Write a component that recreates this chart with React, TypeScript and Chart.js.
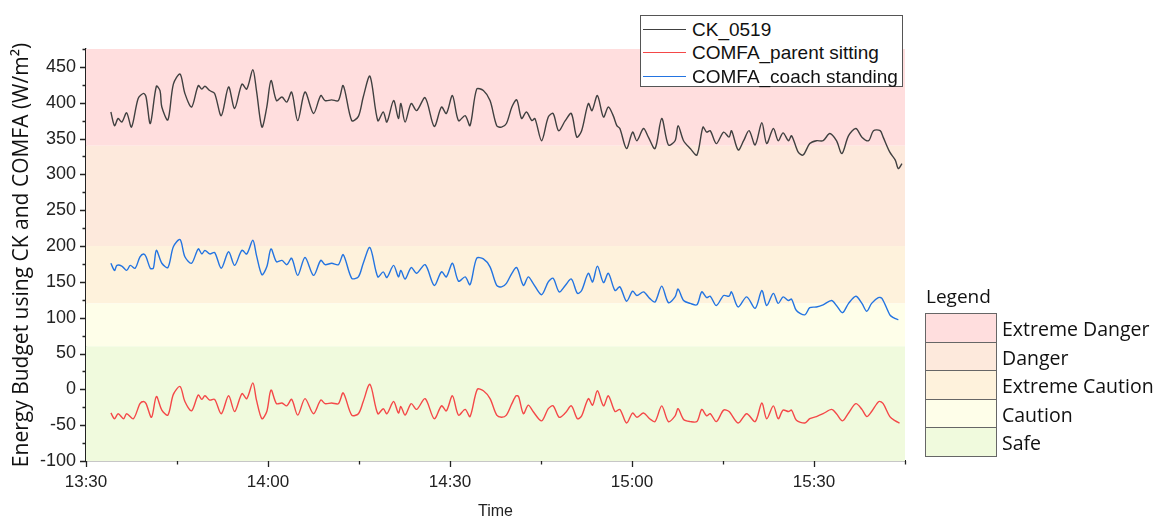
import React, { useEffect, useRef } from 'react';
import Chart from 'chart.js/auto';

// ---- data (minutes after 13:30) ----
const ckTime = [4.1, 4.7, 5.3, 5.9, 6.7, 7.5, 8.6, 9.5, 9.9, 10.6, 11.6, 12.2, 12.5, 13.5, 14.4, 15.5, 16.3, 17.4, 18.5, 19.1, 19.6, 20.4, 21.2, 22.3, 23.5, 24.5, 25.7, 26.5, 27.5, 28.1, 29.0, 29.8, 30.5, 31.4, 32.3, 33.1, 33.9, 34.9, 36.1, 37.5, 38.7, 39.4, 40.5, 41.6, 42.4, 43.8, 44.9, 45.7, 46.8, 48.1, 49.0, 49.6, 50.7, 51.5, 51.9, 52.6, 53.6, 54.5, 55.9, 57.4, 58.6, 59.4, 60.4, 61.4, 62.5, 63.3, 64.4, 65.5, 66.6, 67.7, 68.5, 69.3, 70.2, 71.0, 71.8, 72.6, 73.5, 74.0, 75.1, 76.2, 77.0, 77.9, 79.0, 80.0, 80.9, 81.7, 82.8, 83.4, 84.3, 85.3, 86.1, 86.9, 87.5, 88.0, 89.1, 90.1, 90.8, 91.9, 92.7, 93.8, 94.9, 96.0, 97.1, 97.6, 98.5, 99.6, 100.7, 101.7, 102.3, 102.9, 103.9, 105.1, 106.0, 106.4, 107.5, 108.4, 109.3, 110.3, 111.4, 112.2, 113.3, 114.1, 114.9, 115.8, 116.3, 117.4, 118.2, 119.3, 120.4, 121.5, 122.6, 123.7, 124.6, 125.7, 126.9, 127.9, 129.0, 129.8, 130.9, 131.4, 132.5, 133.4, 133.9, 134.5];
const ckValue = [387, 368, 378, 373, 386, 366, 406, 413, 408, 371, 423, 417, 394, 376, 426, 440, 413, 394, 424, 419, 423, 417, 413, 382, 422, 392, 426, 419, 446, 417, 366, 394, 431, 403, 408, 401, 415, 375, 415, 385, 410, 403, 404, 403, 424, 375, 381, 408, 437, 375, 387, 373, 403, 378, 399, 373, 399, 389, 407, 367, 394, 385, 410, 375, 382, 368, 419, 417, 403, 368, 366, 371, 394, 404, 378, 387, 375, 378, 347, 380, 385, 361, 375, 385, 352, 361, 399, 389, 410, 380, 394, 382, 368, 364, 336, 359, 347, 364, 352, 336, 378, 341, 347, 368, 347, 336, 327, 366, 359, 361, 343, 359, 352, 361, 334, 347, 361, 341, 372, 343, 364, 347, 358, 347, 354, 331, 327, 343, 347, 347, 357, 347, 329, 354, 364, 352, 347, 361, 361, 352, 331, 320, 308, 315];

const parentTime = [4.1, 4.7, 5.3, 6.2, 6.7, 7.8, 8.9, 9.5, 9.9, 10.8, 11.6, 12.5, 13.5, 14.4, 15.5, 16.3, 17.4, 18.5, 19.1, 19.6, 20.4, 21.2, 22.3, 23.5, 24.5, 25.7, 26.5, 27.5, 28.1, 29.0, 29.8, 30.5, 31.4, 32.3, 33.1, 33.9, 34.9, 36.1, 37.5, 38.7, 39.4, 40.5, 41.6, 42.4, 43.8, 44.9, 45.7, 46.8, 48.1, 49.0, 49.6, 50.7, 51.5, 51.9, 52.6, 53.6, 54.5, 55.9, 57.4, 58.6, 59.4, 60.4, 61.4, 62.5, 63.3, 64.5, 65.5, 66.6, 67.7, 68.5, 69.3, 70.2, 70.9, 71.3, 72.1, 72.9, 73.7, 75.1, 76.2, 77.0, 78.0, 79.0, 80.0, 81.0, 81.7, 82.8, 83.5, 84.3, 85.3, 86.1, 87.2, 88.0, 89.1, 90.1, 90.8, 91.9, 92.9, 93.8, 94.9, 96.0, 97.1, 97.6, 98.5, 99.6, 100.7, 101.5, 102.3, 102.9, 103.9, 105.1, 106.0, 107.5, 108.9, 110.3, 111.4, 112.2, 113.3, 114.1, 114.9, 115.8, 116.3, 117.1, 118.5, 119.3, 120.4, 121.5, 122.9, 123.7, 124.7, 125.7, 126.9, 127.9, 128.7, 129.5, 130.7, 131.4, 132.5, 133.4, 134.1];
const parentValue = [-33, -41, -34, -41, -34, -41, -20, -17, -20, -39, -10, -29, -36, -7, 4, -17, -30, -8, -14, -9, -15, -14, -34, -9, -31, -6, -13, 9, -15, -41, -31, -1, -20, -19, -23, -14, -36, -13, -34, -15, -20, -19, -20, -5, -36, -34, -17, 7, -34, -27, -34, -17, -33, -24, -36, -20, -28, -13, -41, -23, -30, -9, -36, -28, -38, 0, -2, -13, -36, -39, -36, -20, -9, -10, -34, -22, -31, -44, -27, -23, -39, -33, -23, -41, -37, -13, -22, -2, -23, -9, -31, -28, -47, -33, -39, -33, -41, -45, -23, -45, -37, -27, -42, -45, -45, -28, -37, -34, -45, -29, -31, -47, -34, -45, -19, -41, -23, -41, -29, -31, -29, -43, -47, -41, -38, -34, -28, -34, -44, -33, -20, -28, -38, -31, -17, -20, -38, -44, -47];

const coachTime = [4.1, 4.7, 5.1, 5.9, 6.7, 7.3, 8.1, 8.9, 9.5, 9.9, 10.6, 11.1, 11.6, 12.5, 13.5, 14.4, 15.5, 16.3, 17.4, 18.5, 19.1, 19.6, 20.4, 21.2, 22.3, 23.5, 24.5, 25.7, 26.5, 27.5, 28.1, 29.0, 29.8, 30.5, 31.4, 32.3, 33.1, 33.9, 34.9, 36.1, 37.5, 38.7, 39.4, 40.5, 41.6, 42.4, 43.8, 44.9, 45.7, 46.8, 48.1, 49.0, 49.6, 50.7, 51.5, 51.9, 52.6, 53.6, 54.5, 55.9, 57.4, 58.6, 59.4, 60.4, 61.4, 62.5, 63.3, 64.4, 65.5, 66.6, 67.7, 68.5, 69.3, 70.2, 71.0, 72.1, 72.9, 73.7, 75.1, 76.2, 77.0, 78.0, 79.0, 80.0, 81.0, 81.7, 82.8, 83.5, 84.3, 85.3, 86.1, 87.2, 88.0, 89.1, 90.1, 90.8, 91.9, 92.9, 93.8, 94.9, 96.0, 97.1, 97.6, 98.5, 99.6, 100.7, 101.5, 102.3, 102.9, 103.9, 105.1, 106.0, 106.4, 107.5, 108.9, 110.3, 111.4, 112.2, 113.3, 114.1, 114.9, 115.8, 116.3, 117.1, 118.5, 119.3, 120.4, 121.5, 122.9, 123.7, 124.7, 125.7, 126.9, 127.9, 128.7, 129.5, 130.6, 131.2, 132.5, 133.1, 133.9];
const coachValue = [176, 166, 173, 172, 166, 173, 169, 185, 189, 185, 169, 169, 194, 176, 170, 199, 209, 185, 176, 196, 189, 194, 189, 191, 169, 192, 173, 194, 189, 208, 187, 160, 171, 196, 178, 180, 174, 183, 159, 184, 159, 180, 174, 176, 174, 188, 155, 157, 176, 198, 157, 164, 156, 173, 157, 166, 154, 170, 162, 174, 145, 164, 157, 176, 151, 157, 146, 183, 182, 171, 145, 143, 148, 162, 170, 145, 157, 148, 132, 150, 155, 136, 145, 154, 134, 138, 162, 150, 172, 149, 162, 138, 143, 123, 137, 131, 136, 127, 122, 144, 121, 129, 140, 124, 120, 118, 136, 128, 130, 117, 131, 130, 136, 115, 129, 113, 138, 117, 134, 120, 129, 124, 126, 110, 104, 114, 115, 118, 124, 117, 107, 120, 130, 120, 109, 120, 128, 127, 104, 100, 97];

const seriesNames = ['CK_0519', 'COMFA_parent sitting', 'COMFA_coach standing'];

const bandNames = ['Extreme Danger', 'Danger', 'Extreme Caution', 'Caution', 'Safe'];
const bandLower = [340, 200, 120, 60, -100];
const bandUpper = [475, 340, 200, 120, 60];

const yTickValues = [-100, -50, 0, 50, 100, 150, 200, 250, 300, 350, 400, 450];
const xTickMinutes = [0, 30, 60, 90, 120];
const xTickLabels = ['13:30', '14:00', '14:30', '15:00', '15:30'];

// ---- styles ----
const seriesColors = ['#404040', '#f44848', '#2374e1'];
const bandColors = ['#ffdede', '#fde9dc', '#fef2dc', '#fefee9', '#f0fadd'];

const zip = (t: number[], v: number[]) => t.map((x, i) => ({ x, y: v[i] }));

const bandPlugin = {
  id: 'bands',
  beforeDatasetsDraw(chart: any) {
    const { ctx, chartArea, scales } = chart;
    const y = scales.y;
    ctx.save();
    bandNames.forEach((_, i) => {
      const top = y.getPixelForValue(bandUpper[i]);
      const bot = y.getPixelForValue(bandLower[i]);
      ctx.fillStyle = bandColors[i];
      ctx.fillRect(chartArea.left, top, chartArea.right - chartArea.left, bot - top);
    });
    ctx.restore();
  },
};

const tickPlugin = {
  id: 'ticksDraw',
  afterDraw(chart: any) {
    const { ctx, chartArea, scales } = chart;
    ctx.save();
    ctx.strokeStyle = '#222';
    ctx.lineWidth = 1.3;
    ctx.beginPath();
    for (let v = -100; v <= 475; v += 25) {
      const py = Math.round(scales.y.getPixelForValue(v)) + 0.5;
      const len = v % 50 === 0 ? 6 : 3.5;
      ctx.moveTo(chartArea.left, py);
      ctx.lineTo(chartArea.left - len, py);
    }
    for (let m = 0; m <= 135; m += 15) {
      const px = Math.round(scales.x.getPixelForValue(m)) + 0.5;
      const len = m % 30 === 0 ? 6 : 3.5;
      ctx.moveTo(px, chartArea.bottom);
      ctx.lineTo(px, chartArea.bottom + len);
    }
    ctx.stroke();
    ctx.restore();
  },
};

export default function App() {
  const ref = useRef<HTMLCanvasElement | null>(null);
  useEffect(() => {
    if (!ref.current) return;
    const ds = (i: number, data: any[]) => ({
      label: seriesNames[i],
      data,
      borderColor: seriesColors[i],
      borderWidth: 1.4,
      pointRadius: 0,
      tension: 0.3,
    });
    const chart = new Chart(ref.current, {
      type: 'line',
      data: {
        datasets: [
          ds(0, zip(ckTime, ckValue)),
          ds(1, zip(parentTime, parentValue)),
          ds(2, zip(coachTime, coachValue)),
        ],
      },
      options: {
        animation: false,
        responsive: false,
        devicePixelRatio: 1,
        layout: { padding: { left: 0, right: 248, top: 49, bottom: 0 } },
        plugins: { legend: { display: false }, tooltip: { enabled: false } },
        scales: {
          x: {
            type: 'linear',
            min: 0,
            max: 135,
            afterFit: (s: any) => { s.height = 56; },
            afterBuildTicks: (s: any) => { s.ticks = xTickMinutes.map((v) => ({ value: v })); },
            grid: { display: false, drawTicks: false },
            border: { display: true, color: '#222', width: 1.3 },
            ticks: {
              padding: 11,
              color: '#222',
              font: { family: 'Liberation Sans, Arial', size: 17 },
              maxRotation: 0,
              callback: (v: any) => {
                const i = xTickMinutes.indexOf(Number(v));
                return i >= 0 ? xTickLabels[i] : '';
              },
            },
            title: {
              display: true,
              text: 'Time',
              color: '#222',
              font: { family: 'Liberation Sans, Arial', size: 16 },
              padding: { top: 0, bottom: -4 },
            },
          },
          y: {
            type: 'linear',
            min: -100,
            max: 475,
            afterFit: (s: any) => { s.width = 86; },
            afterBuildTicks: (s: any) => { s.ticks = yTickValues.map((v) => ({ value: v })); },
            grid: { display: false, drawTicks: false },
            border: { display: true, color: '#222', width: 1.3 },
            ticks: {
              padding: 10,
              color: '#222',
              font: { family: 'Liberation Sans, Arial', size: 18 },
            },
            title: {
              display: true,
              text: 'Energy Budget using CK and COMFA (W/m²)',
              color: '#111',
              font: { family: 'Open Sans', size: 21 },
              padding: { top: 9, bottom: 0 },
            },
          },
        },
      },
      plugins: [bandPlugin, tickPlugin],
    } as any);
    return () => chart.destroy();
  }, []);

  return (
    <div style={{ position: 'absolute', left: 0, top: 0, width: 1153, height: 517, background: '#fff' }}>
      <canvas ref={ref} width={1153} height={517} style={{ position: 'absolute', left: 0, top: 0 }} />
      <div style={{ position: 'absolute', left: 640, top: 15, width: 263, height: 72, border: '1px solid #555', background: '#fff', boxSizing: 'border-box' }}>
        {seriesNames.map((n, i) => (
          <div key={n} style={{ position: 'absolute', left: 0, top: 1.5 + 23.5 * i, height: 23, width: 259 }}>
            <div style={{ position: 'absolute', left: 2, top: 11, width: 43, borderTop: `1.2px solid ${seriesColors[i]}` }} />
            <div style={{ position: 'absolute', left: 51, top: 0, lineHeight: '23px', fontFamily: 'Liberation Sans, Arial', fontSize: 19, color: '#111', whiteSpace: 'nowrap' }}>{n}</div>
          </div>
        ))}
      </div>
      <div style={{ position: 'absolute', left: 926, top: 284, fontFamily: 'Open Sans', fontSize: 19, lineHeight: '24px', color: '#111' }}>Legend</div>
      {bandNames.map((n, i) => (
        <React.Fragment key={n}>
          <div style={{ position: 'absolute', left: 925, top: 313 + 28.5 * i, width: 72, height: 29.5, background: bandColors[i], border: '1px solid #666', boxSizing: 'border-box' }} />
          <div style={{ position: 'absolute', left: 1002, top: 316 + 28.5 * i, lineHeight: '26px', fontFamily: 'Open Sans', fontSize: 19.5, color: '#111', whiteSpace: 'nowrap' }}>{n}</div>
        </React.Fragment>
      ))}
    </div>
  );
}
